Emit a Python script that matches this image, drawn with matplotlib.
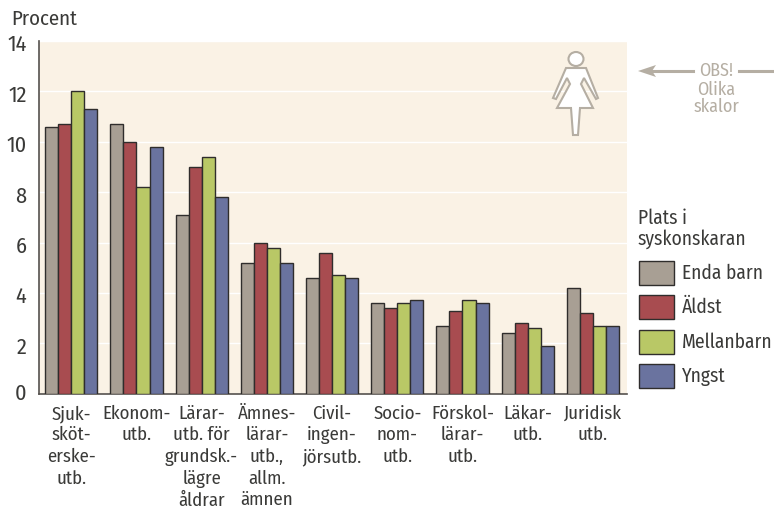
import numpy as np
import matplotlib
matplotlib.use("Agg")
import matplotlib.pyplot as plt
from matplotlib.patches import Rectangle, Polygon, Ellipse
from matplotlib.transforms import ScaledTranslation

W, H = 774, 511

categories = ["Sjuk-\nsköt-\nerske-\nutb.", "Ekonom-\nutb.", "Lärar-\nutb. för\ngrundsk.-\nlägre\nåldrar",
              "Ämnes-\nlärar-\nutb.,\nallm.\nämnen", "Civil-\ningen-\njörsutb.", "Socio-\nnom-\nutb.",
              "Förskol-\nlärar-\nutb.", "Läkar-\nutb.", "Juridisk\nutb."]
enda = [10.6, 10.7, 7.1, 5.2, 4.6, 3.6, 2.7, 2.4, 4.2]
aldst = [10.7, 10.0, 9.0, 6.0, 5.6, 3.4, 3.3, 2.8, 3.2]
mellan = [12.0, 8.2, 9.4, 5.8, 4.7, 3.6, 3.7, 2.6, 2.7]
yngst = [11.3, 9.8, 7.8, 5.2, 4.6, 3.7, 3.6, 1.9, 2.7]
serier = ["Enda barn", "Äldst", "Mellanbarn", "Yngst"]
farger = ["#a89f94", "#a84c50", "#b9c866", "#6a739f"]
yticks = [0, 2, 4, 6, 8, 10, 12, 14]

plt.rcParams["font.family"] = ["Fira Sans Condensed", "Roboto Condensed", "Roboto"]
MORK = "#3a3a38"
GRA = "#b5aea3"
KANT = "#2f2d2c"


def fx(px):
    return px / W


def fy(py):
    return 1 - py / H


fig = plt.figure(figsize=(W / 100, H / 100), dpi=100)
ax = fig.add_axes([fx(39), fy(393.7), (627 - 39) / W, (393.7 - 41) / H])
ax.set_facecolor("#faf2e5")

# stolparna
x = np.arange(len(categories))
b = 0.2
for i, (varden, farg) in enumerate(zip([enda, aldst, mellan, yngst], farger)):
    ax.bar(x + (i - 1.5) * b, varden, b, color=farg, edgecolor=KANT, linewidth=1, zorder=3)

ax.set_xlim(-0.495, 8.523)
ax.set_ylim(0, 14)
ax.set_yticks(yticks)
ax.yaxis.grid(True, color="white", linewidth=1)
ax.set_axisbelow(True)
ax.tick_params(axis="y", length=0, labelsize=16, labelcolor=MORK, pad=9)
ax.set_xticks(x)
ax.set_xticklabels(categories, fontsize=13.5, color=MORK, linespacing=1.27, va="top")
ax.tick_params(axis="x", length=0, pad=8)
for s in ["top", "right"]:
    ax.spines[s].set_visible(False)
for s in ["left", "bottom"]:
    ax.spines[s].set_color("#55514e")
    ax.spines[s].set_linewidth(1.2)

# siffrorna sitter lite lägre än linjerna, nollan lite högre
for v, lab in zip(yticks, ax.get_yticklabels()):
    dy = 2.5 if v == 0 else -2
    lab.set_transform(lab.get_transform() + ScaledTranslation(0, dy / 100, fig.dpi_scale_trans))

fig.text(fx(11), fy(19), "Procent", fontsize=15, color=MORK, va="center", ha="left")

# legend
fig.text(fx(638), fy(229), "Plats i\nsyskonskaran", fontsize=14, color=MORK, va="center", ha="left", linespacing=1.05)
for namn_s, farg, py in zip(serier, farger, [273, 307, 342, 376]):
    fig.add_artist(Rectangle((fx(639), fy(py + 12)), 35 / W, 24 / H, transform=fig.transFigure,
                             facecolor=farg, edgecolor=KANT, linewidth=1))
    fig.text(fx(682), fy(py), namn_s, fontsize=14, color=MORK, va="center", ha="left")

# OBS-pil
fig.text(fx(716), fy(71), "OBS!", fontsize=13, color=GRA, va="center", ha="center")
fig.text(fx(716), fy(90), "Olika", fontsize=13, color=GRA, va="center", ha="center")
fig.text(fx(716), fy(107), "skalor", fontsize=13, color=GRA, va="center", ha="center")
fig.add_artist(plt.Line2D([fx(650), fx(693)], [fy(71), fy(71)], color=GRA, linewidth=2.2))
fig.add_artist(plt.Line2D([fx(739), fx(774)], [fy(71), fy(71)], color=GRA, linewidth=2.2))
fig.add_artist(Polygon([(fx(638), fy(71)), (fx(656), fy(65)), (fx(652), fy(71)), (fx(656), fy(77))],
                       transform=fig.transFigure, facecolor=GRA, edgecolor="none"))

# kvinnosymbol
fig.add_artist(Ellipse((fx(576), fy(59)), 15 / W, 14 / H, transform=fig.transFigure,
                       facecolor="white", edgecolor=GRA, linewidth=1.5))
kropp = [(566, 68), (586, 68), (598, 98), (596, 99), (584, 78), (581, 84), (593, 108), (580, 108),
         (578, 135), (573, 135), (571, 108), (557, 108), (570, 84), (567, 78), (556, 99), (553, 98)]
fig.add_artist(Polygon([(fx(a), fy(c)) for a, c in kropp], transform=fig.transFigure,
                       facecolor="white", edgecolor=GRA, linewidth=1.5, joinstyle="miter"))

fig.savefig("out.png", dpi=100)
